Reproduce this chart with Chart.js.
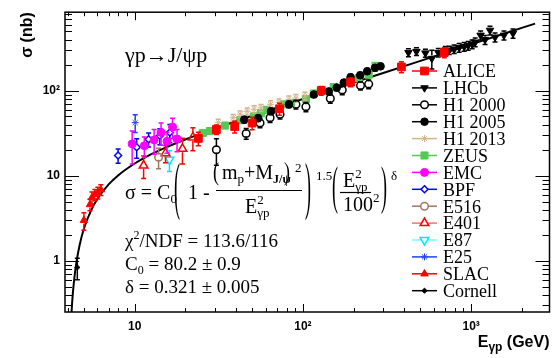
<!DOCTYPE html>
<html>
<head>
<meta charset="utf-8">
<script src="https://cdn.jsdelivr.net/npm/chart.js@4.4.1/dist/chart.umd.min.js"></script>
<style>
  body { margin: 0; background: #fff; }
  canvas { display: block; }
</style>
</head>
<body>
<canvas id="myChart" width="556" height="358" style="width:556px;height:358px"></canvas>
<script>
// photon energy E (GeV), cross section sigma (nb), error (nb)
const aliceE = [23.9, 30.6, 39.3, 49.9, 72.6, 128.6, 192, 385, 692];
const aliceS = [27.6, 35.1, 38.0, 41.8, 61.5, 100.8, 126.5, 191, 282];
const aliceErr = [5, 4.5, 6, 7, 10, 12, 15, 28, 38];

const lhcbE = [424, 473, 535, 584, 638, 702, 741, 793, 849, 909, 960, 1014, 1057, 1138, 1210, 1295, 1387, 1567, 1774];
const lhcbS = [282, 290, 278, 240, 282, 297, 301, 310, 322, 331, 340, 354, 373, 450, 399, 514, 427, 450, 474];
const lhcbErr = [30, 30, 30, 60, 32, 34, 34, 36, 38, 40, 40, 42, 44, 55, 48, 60, 52, 55, 58];

const h1aE = [30.6, 46.0, 55.6, 63.8, 73.1, 90.9, 104.2, 145.5, 171.3, 220, 246];
const h1aS = [20.3, 31.5, 41.8, 48.3, 53.1, 69.3, 64.9, 81.4, 102.1, 115.2, 119.9];
const h1aErr = [7, 4.5, 5, 6, 6.5, 8, 8, 10, 12, 13, 14];

const h1bE = [44.8, 54.2, 64.7, 82.6, 116.2, 142.5, 159, 175, 192, 219, 241, 268.5, 289.5];
const h1bS = [45.8, 47.7, 57.5, 69.3, 90.6, 98.2, 109.2, 124.7, 144.5, 152.5, 169.8, 186.4, 193.9];
const h1bErr = [4, 4, 5, 6, 7, 8, 9, 10, 12, 12, 13, 15, 15];

const h1cE = [31.4, 38.5, 42.4, 46.6, 51.3, 56.4, 64.2, 72.1, 82.6, 90.9, 102.8];
const h1cS = [42.3, 48.3, 53.1, 57.5, 60.7, 63.1, 69.3, 73.1, 79.2, 82.4, 87.0];
const h1cErr = [4, 4.5, 5, 5.5, 6, 6, 7, 7, 8, 8, 9];

const zeusE = [25.4, 28.0, 34.5, 42.4, 51.3, 56.4, 61.2, 77.2, 84.9, 104.2, 116.2, 152.5, 182, 214, 246, 270];
const zeusS = [32.0, 33.7, 39.1, 45.2, 50.3, 54.5, 59.8, 69.3, 72.1, 80.3, 93.1, 110.7, 126.5, 140.7, 154.5, 196.6];
const zeusErr = [2.5, 2.5, 3, 3.5, 4, 4, 5, 5, 6, 6, 7, 8, 9, 10, 11, 14];

const emcE = [9.66, 11.41, 13.05, 14.35, 15.57, 16.79, 17.85];
const emcS = [23.8, 22.6, 26.5, 32.4, 25.5, 37.5, 27.2];
const emcErr = [10, 6, 8.5, 9.5, 7, 10, 8];

const bpfE = [7.97, 10.28, 12.10, 14.11, 16.18];
const bpfS = [17.4, 21.7, 26.9, 29.6, 32.4];
const bpfErr = [3.3, 5.6, 5, 6.3, 7.8];

const e516E = [13.87];
const e516S = [16.6];
const e516Err = [4.5];

const e401E = [11.30, 15.25, 19.23, 22.18];
const e401S = [13.25, 18.5, 20.8, 28.3];
const e401Err = [3.9, 4.2, 7, 8.5];

const e87E = [16.1];
const e87S = [15.5];
const e87Err = [4.2];

const e25E = [10.07];
const e25S = [42.3];
const e25Err = [10];

const slacE = [4.99, 5.42, 5.57, 5.8, 6.04, 6.29];
const slacS = [3.0, 4.6, 5.56, 6.02, 6.35, 6.88];
const slacErr = [0.7, 0.7, 0.9, 0.9, 1.0, 1.0];

const cornellE = [4.56];
const cornellS = [0.84];
const cornellErr = [0.24];

// fit curve
const fitE = [4.2, 4.25, 4.3, 4.4, 4.5, 4.7, 5, 5.5, 6, 7, 8, 10, 12, 15, 20, 30, 50, 100, 200, 500, 1000, 2000, 2400];
const fitS = [0.224, 0.327, 0.44, 0.684, 0.95, 1.52, 2.42, 3.91, 5.34, 7.94, 10.2, 14.0, 17.2, 21.2, 26.8, 36.0, 50.9, 80.0, 125, 225, 352, 549, 617];

const xTicks = [10, 100, 1000];
const xTickLabels = ['10', '10²', '10³'];
const yTicks = [1, 10, 100];
const yTickLabels = ['1', '10', '10²'];

const series = [
  {name: 'ALICE', E: aliceE, S: aliceS, err: aliceErr, color: '#ff0000', line: '#ff0000', style: 'rect', r: 5.5, fill: true},
  {name: 'LHCb', E: lhcbE, S: lhcbS, err: lhcbErr, color: '#000000', line: '#000000', style: 'triangle', rot: 180, r: 4.3, fill: true},
  {name: 'H1 2000', E: h1aE, S: h1aS, err: h1aErr, color: '#000000', line: '#000000', style: 'circle', r: 3.8, fill: false},
  {name: 'H1 2005', E: h1bE, S: h1bS, err: h1bErr, color: '#000000', line: '#000000', style: 'circle', r: 3.8, fill: true},
  {name: 'H1 2013', E: h1cE, S: h1cS, err: h1cErr, color: '#d2b48c', line: '#d2b48c', style: 'star', r: 3.5, fill: true},
  {name: 'ZEUS', E: zeusE, S: zeusS, err: zeusErr, color: '#55c855', line: '#55c855', style: 'rect', r: 5, fill: true},
  {name: 'EMC', E: emcE, S: emcS, err: emcErr, color: '#ff00ff', line: '#ff00ff', style: 'circle', r: 4, fill: true},
  {name: 'BPF', E: bpfE, S: bpfS, err: bpfErr, color: '#0000ff', line: '#0000ff', style: 'rectRot', r: 3.5, fill: false},
  {name: 'E516', E: e516E, S: e516S, err: e516Err, color: '#a07860', line: '#a07860', style: 'circle', r: 3.8, fill: false},
  {name: 'E401', E: e401E, S: e401S, err: e401Err, color: '#ff0000', line: '#ff7070', style: 'triangle', r: 5, fill: false},
  {name: 'E87', E: e87E, S: e87S, err: e87Err, color: '#00e8f0', line: '#70ffff', style: 'triangle', rot: 180, r: 5, fill: false},
  {name: 'E25', E: e25E, S: e25S, err: e25Err, color: '#2040ff', line: '#2040ff', style: 'star', r: 3.5, fill: true},
  {name: 'SLAC', E: slacE, S: slacS, err: slacErr, color: '#ff0000', line: '#ff0000', style: 'triangle', r: 4.3, fill: true},
  {name: 'Cornell', E: cornellE, S: cornellS, err: cornellErr, color: '#000000', line: '#000000', style: 'rectRot', r: 2.6, fill: true}
];

const datasets = series.map(s => ({
  label: s.name,
  data: s.E.map((e, i) => ({x: e, y: s.S[i]})),
  errs: s.err,
  showLine: false,
  pointStyle: s.style,
  pointRotation: s.rot || 0,
  pointRadius: s.r,
  pointBackgroundColor: s.fill ? s.color : 'rgba(0,0,0,0)',
  pointBorderColor: s.color,
  pointBorderWidth: s.fill ? 1 : 1.5,
  pointHoverRadius: s.r
}));

datasets.push({
  type: 'line',
  label: 'fit',
  data: fitE.map((e, i) => ({x: e, y: fitS[i]})),
  borderColor: '#000',
  borderWidth: 2,
  pointRadius: 0,
  cubicInterpolationMode: 'monotone',
  fill: false
});

function txt(ctx, s, x, y, size, bold) {
  ctx.font = (bold ? 'bold ' : '') + size + 'px "Liberation Serif"';
  ctx.textAlign = 'left';
  ctx.textBaseline = 'alphabetic';
  ctx.fillText(s, x, y);
  return x + ctx.measureText(s).width;
}

function paren(ctx, ch, x, top, bot) {
  const f = 18, k = (bot - top) / (0.91 * f);
  ctx.save();
  ctx.font = f + 'px "Liberation Serif"';
  ctx.textAlign = 'left';
  ctx.textBaseline = 'alphabetic';
  ctx.translate(x, bot - 0.215 * f * k);
  ctx.scale(1, k);
  ctx.fillText(ch, 0, 0);
  ctx.restore();
}

function hline(ctx, x1, x2, y) {
  ctx.beginPath();
  ctx.moveTo(x1, y);
  ctx.lineTo(x2, y);
  ctx.stroke();
}

const rootStyle = {
  id: 'rootStyle',
  beforeDatasetDraw(chart, args) {
    const ds = chart.data.datasets[args.index];
    if (!ds.errs) return;
    const {ctx, chartArea: a, scales: {x, y}} = chart;
    ctx.save();
    ctx.beginPath();
    ctx.rect(a.left, a.top, a.right - a.left, a.bottom - a.top);
    ctx.clip();
    ctx.strokeStyle = ds.pointBorderColor;
    ctx.lineWidth = 1.5;
    ds.data.forEach((p, i) => {
      const px = x.getPixelForValue(p.x), py = y.getPixelForValue(p.y);
      const top = y.getPixelForValue(p.y + ds.errs[i]);
      const lo = p.y - ds.errs[i];
      const bot = lo > 0 ? y.getPixelForValue(lo) : a.bottom + 5;
      const r = ds.pointRadius * 0.7;
      ctx.beginPath();
      ctx.moveTo(px, py - r); ctx.lineTo(px, top);
      ctx.moveTo(px, py + r); ctx.lineTo(px, bot);
      ctx.moveTo(px - 2.5, top); ctx.lineTo(px + 2.5, top);
      ctx.moveTo(px - 2.5, bot); ctx.lineTo(px + 2.5, bot);
      ctx.stroke();
    });
    ctx.restore();
  },
  afterDraw(chart) {
    const {ctx, chartArea: a, scales: {x, y}} = chart;
    ctx.save();
    ctx.strokeStyle = '#000';
    ctx.fillStyle = '#000';

    // frame
    ctx.lineWidth = 1.5;
    ctx.strokeRect(a.left, a.top, a.right - a.left, a.bottom - a.top);

    // inward ticks on all four sides
    ctx.lineWidth = 1;
    ctx.beginPath();
    [1, 10, 100, 1000].forEach(d => {
      for (let k = 1; k <= 9; k++) {
        const v = k * d;
        if (v < x.min || v > x.max) continue;
        const px = Math.round(x.getPixelForValue(v)) + 0.5;
        const len = k === 1 ? 8 : 4;
        ctx.moveTo(px, a.bottom); ctx.lineTo(px, a.bottom - len);
        ctx.moveTo(px, a.top); ctx.lineTo(px, a.top + len);
      }
    });
    [0.1, 1, 10, 100].forEach(d => {
      for (let k = 1; k <= 9; k++) {
        const v = k * d;
        if (v < y.min || v > y.max) continue;
        const py = Math.round(y.getPixelForValue(v)) + 0.5;
        const len = k === 1 ? 14 : 7;
        ctx.moveTo(a.left, py); ctx.lineTo(a.left + len, py);
        ctx.moveTo(a.right, py); ctx.lineTo(a.right - len, py);
      }
    });
    ctx.stroke();

    // axis titles
    ctx.save();
    ctx.translate(32, a.top);
    ctx.rotate(-Math.PI / 2);
    ctx.font = 'bold 16px "Liberation Sans"';
    ctx.textAlign = 'right';
    ctx.fillText('σ (nb)', 0, 0);
    ctx.restore();

    ctx.font = 'bold 16px "Liberation Sans"';
    const wE = ctx.measureText('E').width;
    const wG = (ctx.font = 'bold 12px "Liberation Sans"', ctx.measureText('γp').width);
    const wU = (ctx.font = 'bold 16px "Liberation Sans"', ctx.measureText(' (GeV)').width);
    let ex = a.right - wE - wG - wU;
    ctx.textAlign = 'left';
    ctx.fillText('E', ex, 347);
    ctx.font = 'bold 12px "Liberation Sans"';
    ctx.fillText('γp', ex + wE, 351);
    ctx.font = 'bold 16px "Liberation Sans"';
    ctx.fillText(' (GeV)', ex + wE + wG, 347);

    // reaction label
    txt(ctx, 'γp→J/ψp', 125, 62, 22);

    // fit formula
    let e = txt(ctx, 'σ = C', 125, 199, 20);
    txt(ctx, '0', e, 203, 13);
    paren(ctx, '(', 174, 163, 221);
    txt(ctx, '1 -', 188, 199, 20);
    paren(ctx, '(', 213, 163, 185);
    e = txt(ctx, 'm', 222, 179, 20);
    e = txt(ctx, 'p', e, 183, 13);
    e = txt(ctx, '+M', e, 179, 20);
    txt(ctx, 'J/ψ', e, 183, 12, true);
    paren(ctx, ')', 284, 163, 185);
    txt(ctx, '2', 295, 172, 13);
    ctx.lineWidth = 1.2;
    hline(ctx, 216, 302, 190.5);
    e = txt(ctx, 'E', 245, 213, 20);
    txt(ctx, '2', e, 204, 13);
    txt(ctx, 'γp', e, 217, 13);
    paren(ctx, ')', 305, 163, 221);
    txt(ctx, '1.5', 316, 180, 13);
    paren(ctx, '(', 332, 166, 215);
    e = txt(ctx, 'E', 343, 187, 20);
    txt(ctx, '2', e, 178, 13);
    txt(ctx, 'γp', e, 191, 13);
    hline(ctx, 340, 371, 192.5);
    e = txt(ctx, '100', 343, 211, 20);
    txt(ctx, '2', e, 202, 13);
    paren(ctx, ')', 381, 166, 215);
    txt(ctx, 'δ', 391, 180, 13);

    // fit results
    e = txt(ctx, 'χ', 125, 247, 19);
    e = txt(ctx, '2', e, 239, 12);
    txt(ctx, '/NDF = 113.6/116', e, 247, 19);
    e = txt(ctx, 'C', 125, 270, 19);
    e = txt(ctx, '0', e, 274, 12);
    txt(ctx, ' = 80.2 ± 0.9', e, 270, 19);
    txt(ctx, 'δ = 0.321 ± 0.005', 125, 293, 19);

    // legend
    series.forEach((s, i) => {
      const ly = 71 + 16.9 * i;
      ctx.strokeStyle = s.line;
      ctx.lineWidth = 1.5;
      hline(ctx, 412, 437, ly);
      ctx.fillStyle = s.fill ? s.color : '#fff';
      ctx.strokeStyle = s.color;
      ctx.lineWidth = s.fill ? 1 : 1.5;
      Chart.helpers.drawPoint(ctx, {pointStyle: s.style, rotation: s.rot || 0, radius: s.r, borderWidth: s.fill ? 1 : 1.5}, 424.5, ly);
      ctx.fillStyle = '#000';
      txt(ctx, s.name, 443, ly + 6.3, 18);
    });
    ctx.restore();
  }
};

new Chart('myChart', {
  type: 'scatter',
  data: {datasets: datasets},
  options: {
    responsive: false,
    animation: false,
    devicePixelRatio: 1,
    layout: {padding: {top: 8, right: 4, left: 0, bottom: 0}},
    plugins: {legend: {display: false}, tooltip: {enabled: false}},
    scales: {
      x: {
        type: 'logarithmic',
        min: 3.853,
        max: 2923,
        grid: {display: false, drawTicks: false},
        border: {display: false},
        afterBuildTicks: s => { s.ticks = xTicks.map(v => ({value: v})); },
        afterFit: s => { s.height = 46; },
        ticks: {
          autoSkip: false,
          maxRotation: 0,
          padding: 7,
          color: '#000',
          font: {family: 'Liberation Sans', weight: 'bold', size: 12},
          callback: v => xTickLabels[xTicks.indexOf(v)] || ''
        }
      },
      y: {
        type: 'logarithmic',
        min: 0.2513,
        max: 840,
        grid: {display: false, drawTicks: false},
        border: {display: false},
        afterBuildTicks: s => { s.ticks = yTicks.map(v => ({value: v})); },
        afterFit: s => { s.width = 65; },
        ticks: {
          autoSkip: false,
          padding: 5,
          color: '#000',
          font: {family: 'Liberation Sans', weight: 'bold', size: 12},
          callback: v => yTickLabels[yTicks.indexOf(v)] || ''
        }
      }
    }
  },
  plugins: [rootStyle]
});
</script>
</body>
</html>
